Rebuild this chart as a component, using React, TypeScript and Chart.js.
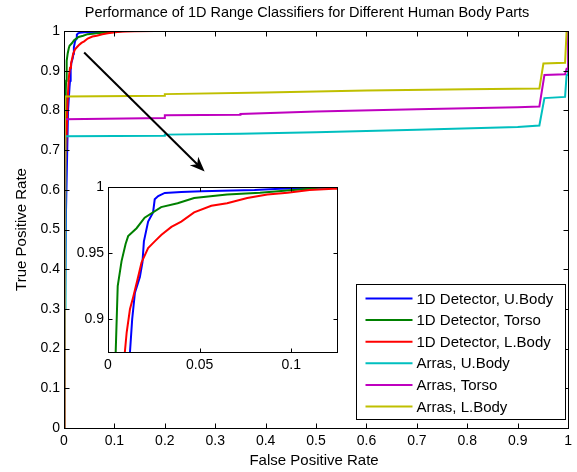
import React, { useEffect, useRef } from 'react';
import { Chart, registerables } from 'chart.js';

Chart.register(...registerables);

const FONT = '"Liberation Sans", Arial, Helvetica, sans-serif';

// ---- text ----
const chartTitle = 'Performance of 1D Range Classifiers for Different Human Body Parts';
const xAxisTitle = 'False Positive Rate';
const yAxisTitle = 'True Positive Rate';

const seriesLabels = [
  '1D Detector, U.Body',
  '1D Detector, Torso',
  '1D Detector, L.Body',
  'Arras, U.Body',
  'Arras, Torso',
  'Arras, L.Body',
];
const seriesColors = ['#0000ff', '#008000', '#ff0000', '#00bfbf', '#bf00bf', '#bfbf00'];

// ---- ticks ----
const mainXTicks = [0, 0.1, 0.2, 0.3, 0.4, 0.5, 0.6, 0.7, 0.8, 0.9, 1];
const mainYTicks = [0, 0.1, 0.2, 0.3, 0.4, 0.5, 0.6, 0.7, 0.8, 0.9, 1];
const insetXTicks = [0, 0.05, 0.1];
const insetYTicks = [0.9, 0.95, 1];
const mainRange = { xMin: 0, xMax: 1, yMin: 0, yMax: 1 };
const insetRange = { xMin: 0, xMax: 0.125, yMin: 0.875, yMax: 1 };

// ---- series (FPR, TPR) ----
const detUBodyFpr = [0, 0.001, 0.004, 0.008, 0.011, 0.012, 0.0132, 0.0147, 0.0174, 0.0188, 0.0196, 0.0219, 0.0246, 0.0255, 0.0274, 0.031, 0.04, 0.051, 0.08, 0.094, 0.109, 0.12, 1];
const detUBodyTpr = [0, 0.2, 0.55, 0.8, 0.86, 0.875, 0.9, 0.92, 0.932, 0.943, 0.959, 0.974, 0.981, 0.991, 0.9934, 0.9958, 0.9966, 0.997, 0.998, 0.999, 0.9995, 1, 1];

const detTorsoFpr = [0, 0.0005, 0.002, 0.0035, 0.0042, 0.0053, 0.0074, 0.0096, 0.011, 0.0156, 0.02, 0.029, 0.038, 0.047, 0.065, 0.083, 0.101, 0.11, 0.115, 1];
const detTorsoTpr = [0, 0.5, 0.75, 0.85, 0.875, 0.925, 0.944, 0.957, 0.963, 0.969, 0.977, 0.985, 0.988, 0.992, 0.9946, 0.996, 0.998, 0.999, 1, 1];

const detLBodyFpr = [0, 0.0005, 0.003, 0.007, 0.0092, 0.0102, 0.012, 0.0138, 0.0161, 0.0183, 0.0219, 0.0255, 0.0292, 0.0346, 0.04, 0.047, 0.0564, 0.065, 0.076, 0.087, 0.098, 0.11, 0.123, 0.14, 0.18, 1];
const detLBodyTpr = [0, 0.3, 0.65, 0.82, 0.875, 0.89, 0.9076, 0.917, 0.93, 0.943, 0.954, 0.959, 0.964, 0.97, 0.974, 0.981, 0.986, 0.988, 0.992, 0.9946, 0.996, 0.998, 0.999, 0.9995, 1, 1];

const arrasUBodyFpr = [0, 0.002, 0.003, 0.2, 0.2, 0.35, 0.5, 0.7, 0.9, 0.943, 0.953, 0.994, 0.997, 1, 1];
const arrasUBodyTpr = [0, 0.3, 0.735, 0.736, 0.739, 0.741, 0.745, 0.751, 0.758, 0.762, 0.831, 0.834, 0.889, 0.889, 1];

const arrasTorsoFpr = [0, 0.001, 0.002, 0.2, 0.2, 0.35, 0.35, 0.5, 0.7, 0.9, 0.943, 0.953, 0.994, 0.997, 1, 1];
const arrasTorsoTpr = [0, 0.5, 0.778, 0.781, 0.788, 0.789, 0.791, 0.797, 0.803, 0.808, 0.81, 0.889, 0.891, 0.905, 0.905, 1];

const arrasLBodyFpr = [0, 0.001, 0.002, 0.2, 0.2, 0.4, 0.6, 0.8, 0.943, 0.951, 0.994, 0.997, 1];
const arrasLBodyTpr = [0, 0.6, 0.835, 0.837, 0.841, 0.845, 0.85, 0.853, 0.855, 0.918, 0.92, 1, 1];

const seriesFpr = [detUBodyFpr, detTorsoFpr, detLBodyFpr, arrasUBodyFpr, arrasTorsoFpr, arrasLBodyFpr];
const seriesTpr = [detUBodyTpr, detTorsoTpr, detLBodyTpr, arrasUBodyTpr, arrasTorsoTpr, arrasLBodyTpr];

// arrow annotation (data coordinates of main axes)
const arrowFrom = { x: 0.04, y: 0.946 };
const arrowTo = { x: 0.279, y: 0.646 };

const fmt = (v: number) => String(Math.round(v * 1000) / 1000);

function makeDatasets(indices: number[]) {
  return indices.map((i) => ({
    label: seriesLabels[i],
    data: seriesFpr[i].map((x, k) => ({ x, y: seriesTpr[i][k] })),
    borderColor: seriesColors[i],
    backgroundColor: seriesColors[i],
    borderWidth: 2,
    pointRadius: 0,
    showLine: true,
    fill: false,
    tension: 0,
    order: 10 - i,
  }));
}

function makeAxis(min: number, max: number, ticksArr: number[], padding: number, size: number, isX: boolean) {
  return {
    type: 'linear',
    min,
    max,
    bounds: 'data',
    afterBuildTicks: (s: any) => {
      s.ticks = ticksArr.map((v) => ({ value: v }));
    },
    afterFit: (s: any) => {
      if (isX) s.height = size;
      else s.width = size;
    },
    grid: { display: false, drawTicks: false },
    border: { display: false },
    ticks: {
      padding,
      color: '#000',
      font: { family: FONT, size: 14 },
      maxRotation: 0,
      minRotation: 0,
      autoSkip: false,
      callback: (v: number) => fmt(v),
    },
  };
}

function framePlugin(tickLen: number, fillWhite: boolean) {
  return {
    id: 'frame',
    beforeDatasetsDraw(chart: any) {
      if (!fillWhite) return;
      const { ctx, chartArea: a } = chart;
      ctx.save();
      ctx.fillStyle = '#fff';
      ctx.fillRect(a.left, a.top, a.right - a.left, a.bottom - a.top);
      ctx.restore();
    },
    afterDatasetsDraw(chart: any) {
      const { ctx, chartArea: a, scales } = chart;
      const L = Math.round(a.left) + 0.5;
      const R = Math.round(a.right) + 0.5;
      const T = Math.round(a.top) + 0.5;
      const B = Math.round(a.bottom) + 0.5;
      ctx.save();
      ctx.strokeStyle = '#000';
      ctx.lineWidth = 1;
      ctx.beginPath();
      scales.x.ticks.forEach((t: any) => {
        const px = Math.round(scales.x.getPixelForValue(t.value)) + 0.5;
        if (px <= L + 1 || px >= R - 1) return;
        ctx.moveTo(px, B);
        ctx.lineTo(px, B - tickLen);
        ctx.moveTo(px, T);
        ctx.lineTo(px, T + tickLen);
      });
      scales.y.ticks.forEach((t: any) => {
        const py = Math.round(scales.y.getPixelForValue(t.value)) + 0.5;
        if (py <= T + 1 || py >= B - 1) return;
        ctx.moveTo(L, py);
        ctx.lineTo(L + tickLen, py);
        ctx.moveTo(R, py);
        ctx.lineTo(R - tickLen, py);
      });
      ctx.stroke();
      ctx.strokeRect(L, T, R - L, B - T);
      ctx.restore();
    },
  };
}

const arrowPlugin = {
  id: 'arrow',
  afterDatasetsDraw(chart: any) {
    const { ctx, scales } = chart;
    const x0 = scales.x.getPixelForValue(arrowFrom.x);
    const y0 = scales.y.getPixelForValue(arrowFrom.y);
    const x1 = scales.x.getPixelForValue(arrowTo.x);
    const y1 = scales.y.getPixelForValue(arrowTo.y);
    const dx = x1 - x0;
    const dy = y1 - y0;
    const len = Math.hypot(dx, dy);
    const ux = dx / len;
    const uy = dy / len;
    const nx = -uy;
    const ny = ux;
    const HL = 15;
    const HW = 6;
    ctx.save();
    ctx.strokeStyle = '#000';
    ctx.fillStyle = '#000';
    ctx.lineWidth = 2;
    ctx.beginPath();
    ctx.moveTo(x0, y0);
    ctx.lineTo(x1 - ux * HL * 0.6, y1 - uy * HL * 0.6);
    ctx.stroke();
    ctx.beginPath();
    ctx.moveTo(x1, y1);
    ctx.lineTo(x1 - ux * HL + nx * HW, y1 - uy * HL + ny * HW);
    ctx.lineTo(x1 - ux * HL * 0.7, y1 - uy * HL * 0.7);
    ctx.lineTo(x1 - ux * HL - nx * HW, y1 - uy * HL - ny * HW);
    ctx.closePath();
    ctx.fill();
    ctx.restore();
  },
};

const textPlugin = {
  id: 'texts',
  afterDraw(chart: any) {
    const { ctx, chartArea: a } = chart;
    ctx.save();
    ctx.fillStyle = '#000';
    ctx.textAlign = 'center';
    ctx.textBaseline = 'middle';
    ctx.font = `14.5px ${FONT}`;
    ctx.fillText(chartTitle, (a.left + a.right) / 2 - 9, 13);
    ctx.font = `15px ${FONT}`;
    ctx.fillText(xAxisTitle, (a.left + a.right) / 2 - 2, 461);
    ctx.translate(22, (a.top + a.bottom) / 2);
    ctx.rotate(-Math.PI / 2);
    ctx.fillText(yAxisTitle, 0, 0);
    ctx.restore();
  },
};

const legendPlugin = {
  id: 'customLegend',
  afterDraw(chart: any) {
    const { ctx, chartArea: a } = chart;
    const ds = chart.data.datasets;
    const left = Math.round(a.right) - 212 + 0.5;
    const top = Math.round(a.bottom) - 144 + 0.5;
    const w = 209;
    const h = 135;
    ctx.save();
    ctx.fillStyle = '#fff';
    ctx.fillRect(left, top, w, h);
    ctx.strokeStyle = '#000';
    ctx.lineWidth = 1;
    ctx.strokeRect(left, top, w, h);
    ctx.font = `15px ${FONT}`;
    ctx.textAlign = 'left';
    ctx.textBaseline = 'middle';
    ds.forEach((d: any, i: number) => {
      const y = top + 14 + i * 21.6;
      ctx.strokeStyle = d.borderColor;
      ctx.lineWidth = 2;
      ctx.beginPath();
      ctx.moveTo(left + 9, y);
      ctx.lineTo(left + 56, y);
      ctx.stroke();
      ctx.fillStyle = '#000';
      ctx.fillText(d.label, left + 60, y + 1);
    });
    ctx.restore();
  },
};

export default function App() {
  const mainRef = useRef<HTMLCanvasElement>(null);
  const insetRef = useRef<HTMLCanvasElement>(null);

  useEffect(() => {
    const main = new Chart(mainRef.current as HTMLCanvasElement, {
      type: 'scatter',
      data: { datasets: makeDatasets([0, 1, 2, 3, 4, 5]) as any },
      options: {
        responsive: false,
        devicePixelRatio: 1,
        animation: false,
        layout: { padding: { top: 31, right: 6, left: 0, bottom: 0 } },
        plugins: { legend: { display: false }, title: { display: false }, tooltip: { enabled: false } },
        scales: {
          x: makeAxis(mainRange.xMin, mainRange.xMax, mainXTicks, 5, 44, true) as any,
          y: makeAxis(mainRange.yMin, mainRange.yMax, mainYTicks, 4, 64, false) as any,
        },
      },
      plugins: [framePlugin(5, false), arrowPlugin, textPlugin, legendPlugin],
    });

    const inset = new Chart(insetRef.current as HTMLCanvasElement, {
      type: 'scatter',
      data: { datasets: makeDatasets([0, 1, 2]) as any },
      options: {
        responsive: false,
        devicePixelRatio: 1,
        animation: false,
        layout: { padding: { top: 6, right: 8, left: 0, bottom: 0 } },
        plugins: { legend: { display: false }, title: { display: false }, tooltip: { enabled: false } },
        scales: {
          x: makeAxis(insetRange.xMin, insetRange.xMax, insetXTicks, 5, 23, true) as any,
          y: makeAxis(insetRange.yMin, insetRange.yMax, insetYTicks, 4, 38, false) as any,
        },
      },
      plugins: [framePlugin(4, true)],
    });

    return () => {
      main.destroy();
      inset.destroy();
    };
  }, []);

  return (
    <div style={{ position: 'absolute', left: 0, top: 0, width: 577, height: 472, background: '#fff' }}>
      <canvas
        ref={mainRef}
        width={577}
        height={472}
        style={{ position: 'absolute', left: 0, top: 0, width: 577, height: 472 }}
      />
      <canvas
        ref={insetRef}
        width={275}
        height={200}
        style={{ position: 'absolute', left: 70, top: 175, width: 275, height: 200 }}
      />
    </div>
  );
}
